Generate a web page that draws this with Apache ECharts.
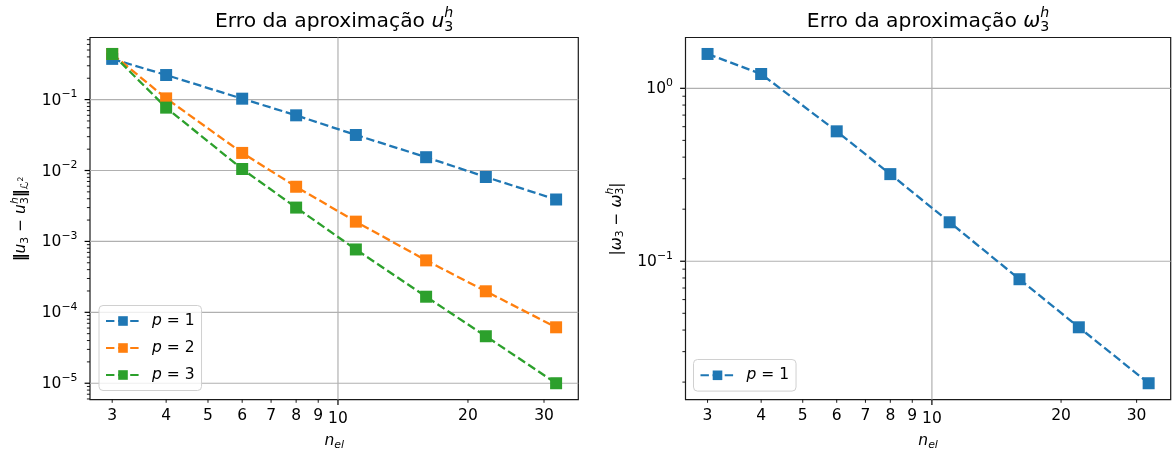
<!DOCTYPE html>
<html><head><meta charset="utf-8">
<script src="https://cdn.jsdelivr.net/npm/echarts@6/dist/echarts.min.js"></script>
<style>html,body{margin:0;padding:0;background:#fff}#c{width:1175px;height:455px}</style>
</head><body><div id="c"></div>
<script>
// ---- data ----
const nEl = [3, 4, 6, 8, 11, 16, 22, 32];
const errU_p1 = [0.375, 0.222, 0.103, 0.060, 0.0317, 0.0154, 0.0081, 0.0039];
const errU_p2 = [0.44, 0.104, 0.0177, 0.0059, 0.0019, 0.00054, 0.000198, 0.0000615];
const errU_p3 = [0.44, 0.077, 0.0105, 0.0030, 0.00077, 0.000166, 0.000046, 0.0000100];
const errW_p1 = [1.58, 1.21, 0.564, 0.319, 0.168, 0.0787, 0.0415, 0.0197];
const xTickLabels = [3, 4, 5, 6, 7, 8, 9, 10, 20, 30];
const xMajorTicks = [10];
const yTicksU = [1e-5, 1e-4, 1e-3, 1e-2, 1e-1];
const yTickExpU = ['\u22125', '\u22124', '\u22123', '\u22122', '\u22121'];
const yTicksW = [1e-1, 1];
const yTickExpW = ['\u22121', '0'];
const legendNames = {p1: '1', p2: '2', p3: '3', w1: '1'};

const C1 = '#1f77b4', C2 = '#ff7f0e', C3 = '#2ca02c';
const FF = '"DejaVu Sans"';
const FS = 15.5;     // tick / label font size
const FSS = 10.9;    // script size
const FT = 20.3;     // title size

function logRange(vals) {
  const l = vals.map(Math.log10);
  const lo = Math.min(...l), hi = Math.max(...l), m = 0.05 * (hi - lo);
  return [Math.pow(10, lo - m), Math.pow(10, hi + m)];
}
const xR = logRange(nEl);
const yRU = logRange(errU_p1.concat(errU_p2, errU_p3));
const yRW = logRange(errW_p1);

function minorTicks(r) {
  const out = [];
  for (let e = Math.floor(Math.log10(r[0])); e <= Math.ceil(Math.log10(r[1])); e++) {
    for (let k = 2; k <= 9; k++) {
      const v = k * Math.pow(10, e);
      if (v >= r[0] && v <= r[1]) out.push(v);
    }
  }
  return out;
}

const mctx = document.createElement('canvas').getContext('2d');
function tw(t, font) { mctx.font = font; return mctx.measureText(t).width; }
function mathKids(pieces, align) {
  let x = 0, lastStart = 0; const kids = [];
  for (const p of pieces) {
    const font = (p.it ? 'italic ' : '') + (p.b ? 'bold ' : '') + p.s + 'px ' + FF;
    const w = tw(p.t, font);
    let px;
    if (p.stack) { px = lastStart; x = Math.max(x, lastStart + w); }
    else { px = x; lastStart = x; x += w; }
    kids.push({type: 'text', x: px, y: p.dy || 0, style: {text: p.t, font: font, fill: '#000', align: 'left', verticalAlign: 'middle'}});
  }
  const off = align === 'right' ? -x : align === 'center' ? -x / 2 : 0;
  kids.forEach(k => k.x += off);
  return kids;
}

const grids = [
  {left: 90, top: 37.5, width: 488.3, height: 362.2},
  {left: 685.5, top: 37.5, width: 485.2, height: 362.2}
];

function dashed(name, data, color, gi) {
  return {
    name: name, type: 'line', xAxisIndex: gi, yAxisIndex: gi, z: 3,
    data: nEl.map((x, i) => [x, data[i]]),
    symbol: 'rect', symbolSize: 12, showSymbol: true,
    lineStyle: {color: color, width: 2.3, type: [8.4, 3.7]},
    itemStyle: {color: color}, emphasis: {disabled: true}, animation: false
  };
}

function gridSeries(gi, yR, yMajors) {
  const data = yMajors.map(v => [xR[0], v, 0]).concat(xMajorTicks.map(v => [v, yR[0], 1]));
  return {
    type: 'custom', xAxisIndex: gi, yAxisIndex: gi, z: 1, silent: true, animation: false,
    data: data,
    renderItem: (params, api) => {
      const kind = api.value(2);
      let a, b;
      if (kind === 0) { a = api.coord([xR[0], api.value(1)]); b = api.coord([xR[1], api.value(1)]); }
      else { a = api.coord([api.value(0), yR[0]]); b = api.coord([api.value(0), yR[1]]); }
      return {type: 'line', shape: {x1: a[0], y1: a[1], x2: b[0], y2: b[1]}, style: {stroke: '#b0b0b0', lineWidth: 1.2}};
    }
  };
}

function xTickSeries(gi, yR) {
  return {
    type: 'custom', xAxisIndex: gi, yAxisIndex: gi, z: 6, silent: true, clip: false, animation: false,
    data: xTickLabels.map(v => [v, yR[0]]),
    renderItem: (params, api) => {
      const v = api.value(0);
      const p = api.coord([v, api.value(1)]);
      const major = xMajorTicks.indexOf(v) >= 0;
      const len = major ? 5.4 : 3.1;
      return {type: 'group', children: [
        {type: 'line', shape: {x1: p[0], y1: p[1], x2: p[0], y2: p[1] + len}, style: {stroke: '#000', lineWidth: major ? 1.2 : 0.9}},
        {type: 'text', x: p[0], y: p[1] + (major ? 19.5 : 16.5), style: {text: String(v), font: FS + 'px ' + FF, fill: '#000', align: 'center', verticalAlign: 'middle'}}
      ]};
    }
  };
}

function yTickSeries(gi, yR, majors, exps) {
  const data = majors.map((v, i) => [xR[0], v, i]).concat(minorTicks(yR).map(v => [xR[0], v, -1]));
  return {
    type: 'custom', xAxisIndex: gi, yAxisIndex: gi, z: 6, silent: true, clip: false, animation: false,
    data: data,
    renderItem: (params, api) => {
      const idx = api.value(2);
      const p = api.coord([api.value(0), api.value(1)]);
      const major = idx >= 0;
      const len = major ? 5.4 : 3.1;
      const kids = [{type: 'line', shape: {x1: p[0] - len, y1: p[1], x2: p[0], y2: p[1]}, style: {stroke: '#000', lineWidth: major ? 1.2 : 0.9}}];
      if (major) {
        kids.push({type: 'group', x: p[0] - 12.5, y: p[1], children: mathKids([
          {t: '10', s: FS, dy: 1},
          {t: exps[idx], s: FSS, dy: -5}
        ], 'right')});
      }
      return {type: 'group', children: kids};
    }
  };
}

function legend(gi, names, left, top, pad) {
  return {
    show: true, data: names, orient: 'vertical', left: left, top: top,
    itemWidth: 34, itemHeight: 12, itemGap: 11,
    padding: pad,
    borderColor: '#d0d0d0', borderWidth: 1, borderRadius: 4,
    backgroundColor: 'rgba(255,255,255,0.8)',
    selectedMode: false,
    formatter: n => '{i|p} = ' + legendNames[n],
    textStyle: {fontFamily: 'DejaVu Sans', fontSize: FS, color: '#000', padding: [0, 0, 0, 7],
      rich: {i: {fontFamily: 'DejaVu Sans', fontStyle: 'italic', fontSize: FS, color: '#000'}}}
  };
}

const titleKids = (sym) => mathKids([
  {t: 'Erro da aproxima\u00e7\u00e3o ', s: FT},
  {t: sym, s: FT, it: true},
  {t: 'h', s: 14.2, it: true, dy: -8.5},
  {t: '3', s: 14.2, dy: 5.5, stack: true}
], 'center');

const xTitle = () => mathKids([
  {t: 'n', s: FS, it: true}, {t: 'el', s: FSS, it: true, dy: 4}], 'center');

const graphic = [
  {type: 'group', x: grids[0].left + grids[0].width / 2, y: 21.5, children: titleKids('u')},
  {type: 'group', x: grids[1].left + grids[1].width / 2, y: 21.5, children: titleKids('\u03c9')},
  {type: 'group', x: grids[0].left + grids[0].width / 2, y: 441, children: xTitle()},
  {type: 'group', x: grids[1].left + grids[1].width / 2, y: 441, children: xTitle()},
  {type: 'group', x: 21, y: 219, rotation: Math.PI / 2, children: mathKids([
    {t: '\u2016', s: FS, b: true},
    {t: 'u', s: FS, it: true}, {t: '3', s: FSS, dy: 4},
    {t: ' \u2212 ', s: FS},
    {t: 'u', s: FS, it: true}, {t: 'h', s: FSS, it: true, dy: -6}, {t: '3', s: FSS, dy: 4, stack: true},
    {t: '\u2016', s: FS, b: true},
    {t: '\u2112', s: FSS, it: true, dy: 4}, {t: '2', s: 7.6, dy: 0}
  ], 'center')},
  {type: 'group', x: 616.5, y: 219, rotation: Math.PI / 2, children: mathKids([
    {t: '|', s: FS},
    {t: '\u03c9', s: FS, it: true}, {t: '3', s: FSS, dy: 4},
    {t: ' \u2212 ', s: FS},
    {t: '\u03c9', s: FS, it: true}, {t: 'h', s: FSS, it: true, dy: -6}, {t: '3', s: FSS, dy: 4, stack: true},
    {t: '|', s: FS}
  ], 'center')}
];

const axisCommon = {type: 'log', logBase: 10, axisLine: {show: false}, axisTick: {show: false}, axisLabel: {show: false}, splitLine: {show: false}};

const option = {
  animation: false,
  backgroundColor: '#ffffff',
  grid: grids.map(g => Object.assign({show: true, borderColor: '#1a1a1a', borderWidth: 1.2, backgroundColor: '#fff', containLabel: false}, g)),
  xAxis: [
    Object.assign({gridIndex: 0, min: xR[0], max: xR[1]}, axisCommon),
    Object.assign({gridIndex: 1, min: xR[0], max: xR[1]}, axisCommon)
  ],
  yAxis: [
    Object.assign({gridIndex: 0, min: yRU[0], max: yRU[1]}, axisCommon),
    Object.assign({gridIndex: 1, min: yRW[0], max: yRW[1]}, axisCommon)
  ],
  legend: [legend(0, ['p1', 'p2', 'p3'], 99, 305.5, [7.5, 7, 7.5, 6]), legend(1, ['w1'], 693.5, 359.5, [7.8, 7, 7.8, 6])],
  graphic: graphic,
  series: [
    gridSeries(0, yRU, yTicksU),
    gridSeries(1, yRW, yTicksW),
    dashed('p1', errU_p1, C1, 0),
    dashed('p2', errU_p2, C2, 0),
    dashed('p3', errU_p3, C3, 0),
    dashed('w1', errW_p1, C1, 1),
    xTickSeries(0, yRU), xTickSeries(1, yRW),
    yTickSeries(0, yRU, yTicksU, yTickExpU),
    yTickSeries(1, yRW, yTicksW, yTickExpW)
  ]
};
const chart = echarts.init(document.getElementById('c'), null, {renderer: 'canvas'});
chart.setOption(option);
</script></body></html>
